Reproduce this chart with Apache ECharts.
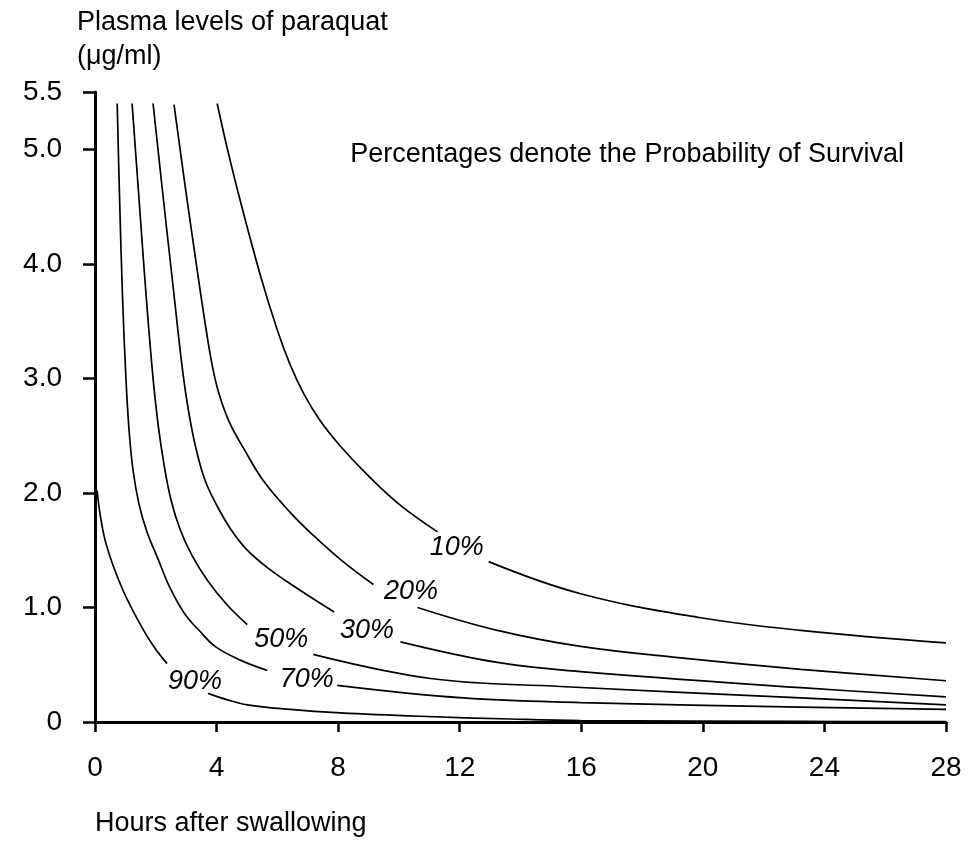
<!DOCTYPE html>
<html><head><meta charset="utf-8">
<script src="https://cdn.jsdelivr.net/npm/echarts@6/dist/echarts.min.js"></script>
<style>html,body{margin:0;padding:0;background:#fff}#c{width:980px;height:860px}</style>
</head><body><div id="c"></div>
<script>
// Tick values
const xTicks = [0, 4, 8, 12, 16, 20, 24, 28];
const yTicks = [0, 1, 2, 3, 4, 5, 5.5];

// Curve labels (probability of survival)
const curveNames = ['10%', '20%', '30%', '50%', '70%', '90%'];

// Curves: [hours, plasma level µg/ml]; '-' marks the gap left for the label
const curve10 = [[4.02,5.40],[4.35,5.01],[4.78,4.55],[5.44,3.90],[6.00,3.42],[6.42,3.12],[6.88,2.86],[7.41,2.63],[8.07,2.41],[8.99,2.15],[10.01,1.90],[11.27,1.66],[11.9,'-'],[12.95,1.40],[15.98,1.12],[19.93,0.91],[23.22,0.80],[28,0.69]];
const curve20 = [[2.60,5.39],[2.96,4.69],[3.36,3.95],[3.66,3.42],[3.89,3.07],[4.12,2.83],[4.45,2.60],[4.91,2.38],[5.53,2.11],[6.42,1.83],[7.18,1.63],[8.07,1.42],[9.16,1.20],[10.0,'-'],[10.61,1.00],[13.24,0.80],[15.98,0.66],[19.27,0.56],[23.22,0.46],[28,0.36]];
const curve30 = [[1.91,5.40],[2.24,4.59],[2.57,3.80],[2.90,3.03],[3.10,2.68],[3.33,2.38],[3.62,2.11],[3.99,1.90],[4.45,1.69],[5.01,1.50],[5.76,1.33],[6.52,1.19],[7.87,0.96],[8.95,'-'],[10.05,0.70],[13.24,0.52],[15.98,0.44],[23.22,0.30],[28,0.22]];
const curve50 = [[1.22,5.40],[1.45,4.56],[1.68,3.73],[1.91,3.00],[2.08,2.59],[2.27,2.25],[2.50,1.94],[2.80,1.68],[3.20,1.45],[3.69,1.24],[4.32,1.03],[5.01,0.85],[6.1,'-'],[7.18,0.59],[11.03,0.38],[15.32,0.31],[23.22,0.21],[28,0.15]];
const curve70 = [[0.73,5.40],[0.81,4.56],[0.91,3.68],[1.02,2.99],[1.12,2.55],[1.25,2.20],[1.45,1.90],[1.71,1.66],[2.08,1.42],[2.47,1.17],[2.96,0.94],[3.46,0.79],[3.95,0.66],[4.78,0.54],[5.67,0.45],[7.0,'-'],[7.97,0.32],[12.12,0.21],[15.98,0.17],[23.22,0.13],[28,0.11]];
const curve90 = [[0.07,2.02],[0.17,1.81],[0.33,1.59],[0.59,1.37],[0.92,1.15],[1.29,0.95],[1.71,0.75],[2.04,0.62],[2.37,0.51],[3.25,'-'],[3.72,0.25],[4.28,0.20],[5.01,0.15],[6.42,0.11],[8.07,0.08],[10.71,0.05],[13.67,0.026],[15.98,0.013],[23.22,0.005],[28,0.004]];

// Where each curve's label sits
const labelPoints = [[11.9,1.52],[10.4,1.14],[8.95,0.80],[6.13,0.72],[6.97,0.37],[3.29,0.35]];

const curves = [curve10, curve20, curve30, curve50, curve70, curve90];
const FONT = '"Liberation Sans", Arial, Helvetica, sans-serif';

const chart = echarts.init(document.getElementById('c'), null, {renderer: 'canvas'});
const series = curves.map((d, i) => ({
  type: 'line', name: curveNames[i], data: d,
  smooth: 0.4, showSymbol: false, connectNulls: false,
  lineStyle: {color: '#000', width: 1.7}, silent: true, z: 2
}));
series.push({
  type: 'scatter', data: labelPoints.map((p, i) => ({name: curveNames[i], value: p})),
  symbolSize: 0, itemStyle: {color: '#000'}, silent: true, z: 3,
  label: {show: true, position: 'inside', formatter: '{b}', color: '#000', opacity: 1,
          textBorderWidth: 0, fontStyle: 'italic', fontSize: 27, fontFamily: FONT}
});

chart.setOption({
  animation: false,
  backgroundColor: '#fff',
  grid: {left: 95, right: 34, top: 92, bottom: 138},
  xAxis: {
    type: 'value', min: 0, max: 28, interval: 4, offset: 18,
    axisLine: {show: true, lineStyle: {color: '#000', width: 3}},
    axisTick: {show: true, length: 10, lineStyle: {color: '#000', width: 2.5}},
    axisLabel: {color: '#000', fontSize: 28, fontFamily: FONT, margin: 14},
    splitLine: {show: false}
  },
  yAxis: {
    type: 'value', min: 0, max: 5.5, offset: 16,
    axisLine: {show: true, lineStyle: {color: '#000', width: 3}},
    axisTick: {show: true, length: 12, customValues: yTicks, lineStyle: {color: '#000', width: 2.5}},
    axisLabel: {color: '#000', fontSize: 28, fontFamily: FONT, margin: 17, customValues: yTicks,
                formatter: v => v === 0 ? '0' : v.toFixed(1)},
    splitLine: {show: false}
  },
  graphic: [
    {type: 'text', left: 77, top: 6, style: {text: 'Plasma levels of paraquat\n(μg/ml)', font: '27px ' + FONT, lineHeight: 34, fill: '#000'}},
    {type: 'text', right: 76, top: 141, style: {text: 'Percentages denote the Probability of Survival', font: '27px ' + FONT, fill: '#000'}},
    {type: 'text', left: 95, top: 810, style: {text: 'Hours after swallowing', font: '27px ' + FONT, fill: '#000'}}
  ],
  series: series
});
</script></body></html>
